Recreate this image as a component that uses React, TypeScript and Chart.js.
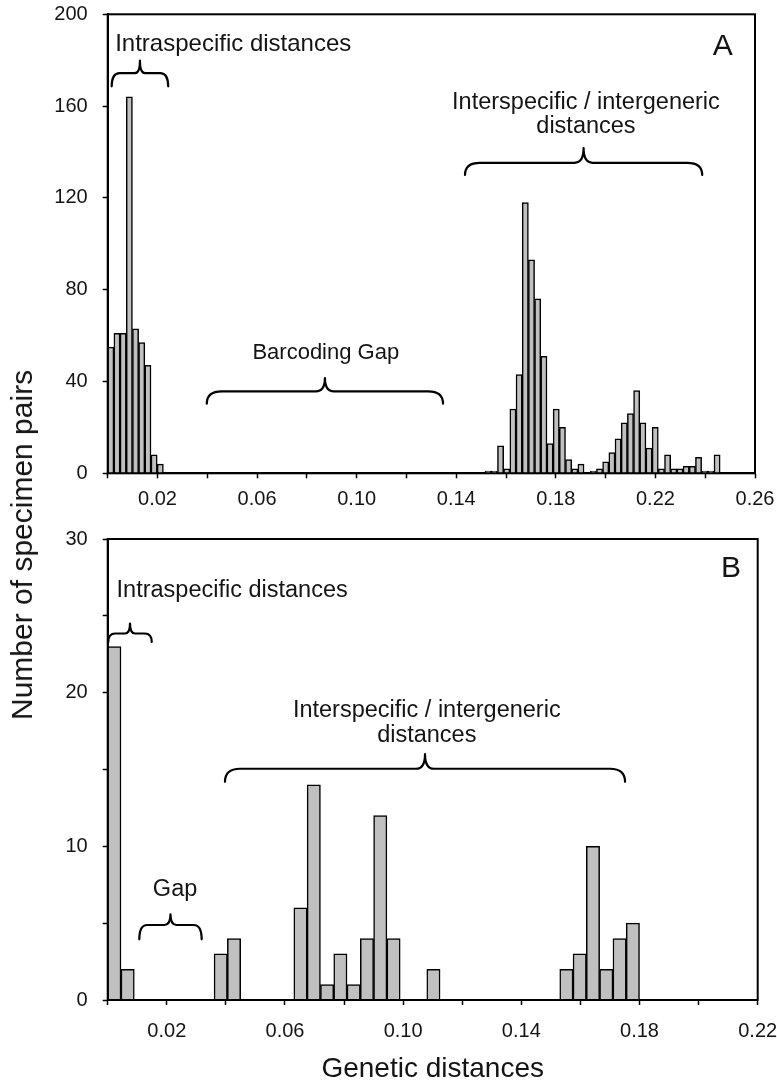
import React, { useEffect, useRef } from 'react';
import { Chart, registerables } from 'chart.js';

Chart.register(...registerables);

const FONT = '"Liberation Sans", Arial, Helvetica, sans-serif';
const TEXT_COLOR = '#141414';

// ---------------- Panel A (bins of equal width starting at 0) ----------------
const A_BIN_WIDTH = 0.002485;
const A_BIN_COUNT = 104;
const A_INTRA_FIRST_BIN = 0;
const A_INTRA_COUNTS = [55, 61, 61, 164, 63, 57, 47, 8, 4];
const A_INTER_FIRST_BIN = 61;
const A_INTER_COUNTS = [
  1, 1, 12, 2, 28, 43, 118, 93, 76, 51,
  13, 28, 20, 6, 2, 4, 0, 1, 2, 5,
  9, 15, 22, 26, 36, 22, 11, 20, 2, 8,
  2, 2, 3, 3, 7, 1, 1, 8,
];
const A_X_LABELS = ['0.02', '0.06', '0.10', '0.14', '0.18', '0.22', '0.26'];
const A_Y_LABELS = ['0', '40', '80', '120', '160', '200'];

// ---------------- Panel B ----------------
const B_BIN_WIDTH = 0.0045;
const B_COUNTS = [
  23, 2, 0, 0, 0, 0, 0, 0, 3, 4,
  0, 0, 0, 0, 6, 14, 1, 3, 1, 4,
  12, 4, 0, 0, 2, 0, 0, 0, 0, 0,
  0, 0, 0, 0, 2, 3, 10, 2, 4, 5,
];
const B_X_LABELS = ['0.02', '0.06', '0.10', '0.14', '0.18', '0.22'];
const B_Y_LABELS = ['0', '10', '20', '30'];

function buildSeries(binWidth: number, binCount: number, groups: { first: number; counts: number[] }[]) {
  const counts: number[] = new Array(binCount).fill(0);
  groups.forEach((g) => g.counts.forEach((c, i) => { counts[g.first + i] = c; }));
  return counts.map((c, i) => ({ x: (i + 0.5) * binWidth, y: c }));
}

const framePlugin = {
  id: 'frame',
  afterDatasetsDraw(chart: any) {
    const { ctx, chartArea: a } = chart;
    ctx.save();
    ctx.strokeStyle = '#000';
    ctx.lineWidth = 2;
    ctx.strokeRect(a.left, a.top, a.right - a.left, a.bottom - a.top);
    ctx.restore();
  },
};

function notesPlugin(notes: any[], braces: any[]) {
  return {
    id: 'notes',
    afterDraw(chart: any) {
      const { ctx } = chart;
      const xs = chart.scales.x;
      const ys = chart.scales.y;
      ctx.save();
      ctx.fillStyle = TEXT_COLOR;
      ctx.textBaseline = 'alphabetic';
      notes.forEach((n) => {
        ctx.font = `${n.size || 23.5}px ${FONT}`;
        ctx.textAlign = n.align;
        ctx.fillText(n.text, xs.getPixelForValue(n.x), ys.getPixelForValue(n.y));
      });
      ctx.strokeStyle = '#000';
      ctx.lineWidth = 2.2;
      ctx.lineJoin = 'round';
      ctx.lineCap = 'round';
      braces.forEach((b) => {
        const x1 = xs.getPixelForValue(b.x1);
        const x2 = xs.getPixelForValue(b.x2);
        const xc = (x1 + x2) / 2;
        const yE = ys.getPixelForValue(b.yEnd);
        const yL = ys.getPixelForValue(b.yLine);
        const yC = ys.getPixelForValue(b.yCusp);
        const half = (x2 - x1) / 2;
        const rE = Math.min(b.rEnd, half * 0.45);
        const rC = Math.min(b.rCusp, half * 0.45);
        ctx.beginPath();
        ctx.moveTo(x1, yE);
        ctx.quadraticCurveTo(x1, yL, x1 + rE, yL);
        ctx.lineTo(xc - rC, yL);
        ctx.quadraticCurveTo(xc, yL, xc, yC);
        ctx.quadraticCurveTo(xc, yL, xc + rC, yL);
        ctx.lineTo(x2 - rE, yL);
        ctx.quadraticCurveTo(x2, yL, x2, yE);
        ctx.stroke();
      });
      ctx.restore();
    },
  };
}

function makeConfig(o: any): any {
  const gridOpts = {
    display: true,
    drawOnChartArea: false,
    drawTicks: true,
    tickLength: 5,
    tickWidth: 1.5,
    tickColor: '#000',
    offset: false,
  };
  return {
    type: 'bar',
    data: {
      datasets: [
        {
          data: o.data,
          backgroundColor: '#c0c0c0',
          borderColor: '#000',
          borderWidth: 1.5,
          barPercentage: 1,
          categoryPercentage: 1,
        },
      ],
    },
    options: {
      responsive: false,
      maintainAspectRatio: false,
      animation: false,
      layout: { padding: o.padding },
      plugins: { legend: { display: false }, tooltip: { enabled: false } },
      scales: {
        x: {
          type: 'linear',
          min: 0,
          max: o.xMax,
          offset: false,
          ticks: {
            stepSize: 0.02,
            autoSkip: false,
            maxRotation: 0,
            minRotation: 0,
            padding: o.xTickPad,
            color: TEXT_COLOR,
            font: { family: FONT, size: 20 },
            callback: (v: any) => {
              const s = Number(v).toFixed(2);
              return o.xLabels.includes(s) ? s : '';
            },
          },
          grid: gridOpts,
          border: { display: true, color: '#000', width: 2 },
          title: o.xTitle
            ? {
                display: true,
                text: o.xTitle,
                color: TEXT_COLOR,
                font: { family: FONT, size: 28 },
                padding: { top: 0, bottom: 0 },
              }
            : { display: false },
          afterFit: (s: any) => {
            s.height = o.xHeight;
            s.paddingLeft = 0;
            s.paddingRight = 0;
          },
        },
        y: {
          type: 'linear',
          min: 0,
          max: o.yMax,
          ticks: {
            stepSize: o.yStep,
            padding: 15,
            color: TEXT_COLOR,
            font: { family: FONT, size: 20 },
            callback: (v: any) => {
              const s = String(Math.round(Number(v)));
              return o.yLabels.includes(s) ? s : '';
            },
          },
          grid: gridOpts,
          border: { display: true, color: '#000', width: 2 },
          afterFit: (s: any) => {
            s.width = o.yWidth;
            s.paddingTop = 0;
            s.paddingBottom = 0;
          },
        },
      },
    },
    plugins: [framePlugin, notesPlugin(o.notes, o.braces)],
  };
}

export default function App() {
  const refA = useRef<HTMLCanvasElement>(null);
  const refB = useRef<HTMLCanvasElement>(null);

  useEffect(() => {
    const dataA = buildSeries(A_BIN_WIDTH, A_BIN_COUNT, [
      { first: A_INTRA_FIRST_BIN, counts: A_INTRA_COUNTS },
      { first: A_INTER_FIRST_BIN, counts: A_INTER_COUNTS },
    ]);
    const dataB = buildSeries(B_BIN_WIDTH, B_COUNTS.length, [{ first: 0, counts: B_COUNTS }]);

    const chartA = new Chart(
      refA.current as HTMLCanvasElement,
      makeConfig({
        data: dataA,
        xMax: 0.26,
        xLabels: A_X_LABELS,
        yMax: 200,
        yStep: 40,
        yLabels: A_Y_LABELS,
        padding: { left: 0, top: 14.3, right: 22, bottom: 0 },
        yWidth: 107.7,
        xHeight: 46.7,
        xTickPad: 9,
        xTitle: null,
        notes: [
          { text: 'Intraspecific distances', x: 0.003, y: 184, align: 'left', size: 24 },
          { text: 'Barcoding Gap', x: 0.0876, y: 49.7, align: 'center', size: 22 },
          { text: 'Interspecific / intergeneric', x: 0.1921, y: 158.6, align: 'center' },
          { text: 'distances', x: 0.1921, y: 148.1, align: 'center' },
          { text: 'A', x: 0.247, y: 182.3, align: 'center', size: 30 },
        ],
        braces: [
          { x1: 0.0016, x2: 0.0243, yEnd: 168.6, yLine: 174.4, yCusp: 179.8, rEnd: 8, rCusp: 5 },
          { x1: 0.0398, x2: 0.1347, yEnd: 30.3, yLine: 35.7, yCusp: 41.5, rEnd: 15, rCusp: 9 },
          { x1: 0.1435, x2: 0.2388, yEnd: 130, yLine: 135.3, yCusp: 141.7, rEnd: 15, rCusp: 9 },
        ],
      })
    );

    const chartB = new Chart(
      refB.current as HTMLCanvasElement,
      makeConfig({
        data: dataB,
        xMax: 0.22,
        xLabels: B_X_LABELS,
        yMax: 30,
        yStep: 5,
        yLabels: B_Y_LABELS,
        padding: { left: 0, top: 19, right: 19.3, bottom: 0 },
        yWidth: 107.7,
        xHeight: 86,
        xTickPad: 14,
        xTitle: 'Genetic distances',
        notes: [
          { text: 'Intraspecific distances', x: 0.003, y: 26.2, align: 'left' },
          { text: 'Gap', x: 0.0228, y: 6.74, align: 'center' },
          { text: 'Interspecific / intergeneric', x: 0.108, y: 18.4, align: 'center' },
          { text: 'distances', x: 0.108, y: 16.8, align: 'center' },
          { text: 'B', x: 0.211, y: 27.5, align: 'center', size: 30 },
        ],
        braces: [
          { x1: 0.0002, x2: 0.0149, yEnd: 23.3, yLine: 23.85, yCusp: 24.5, rEnd: 7, rCusp: 5 },
          { x1: 0.0107, x2: 0.0318, yEnd: 3.95, yLine: 4.88, yCusp: 5.58, rEnd: 8, rCusp: 6 },
          { x1: 0.0397, x2: 0.1751, yEnd: 14.2, yLine: 15.05, yCusp: 16.0, rEnd: 15, rCusp: 9 },
        ],
      })
    );

    return () => {
      chartA.destroy();
      chartB.destroy();
    };
  }, []);

  return (
    <div
      style={{
        position: 'absolute',
        left: 0,
        top: 0,
        width: 777,
        height: 1086,
        background: '#fff',
        overflow: 'hidden',
      }}
    >
      <canvas ref={refA} width={777} height={520} style={{ position: 'absolute', left: 0, top: 0 }} />
      <canvas ref={refB} width={777} height={566} style={{ position: 'absolute', left: 0, top: 520 }} />
      <div
        style={{
          position: 'absolute',
          left: 22,
          top: 545,
          transform: 'translate(-50%, -50%) rotate(-90deg)',
          whiteSpace: 'nowrap',
          fontFamily: FONT,
          fontSize: 30,
          lineHeight: '34px',
          color: TEXT_COLOR,
        }}
      >
        Number of specimen pairs
      </div>
    </div>
  );
}
